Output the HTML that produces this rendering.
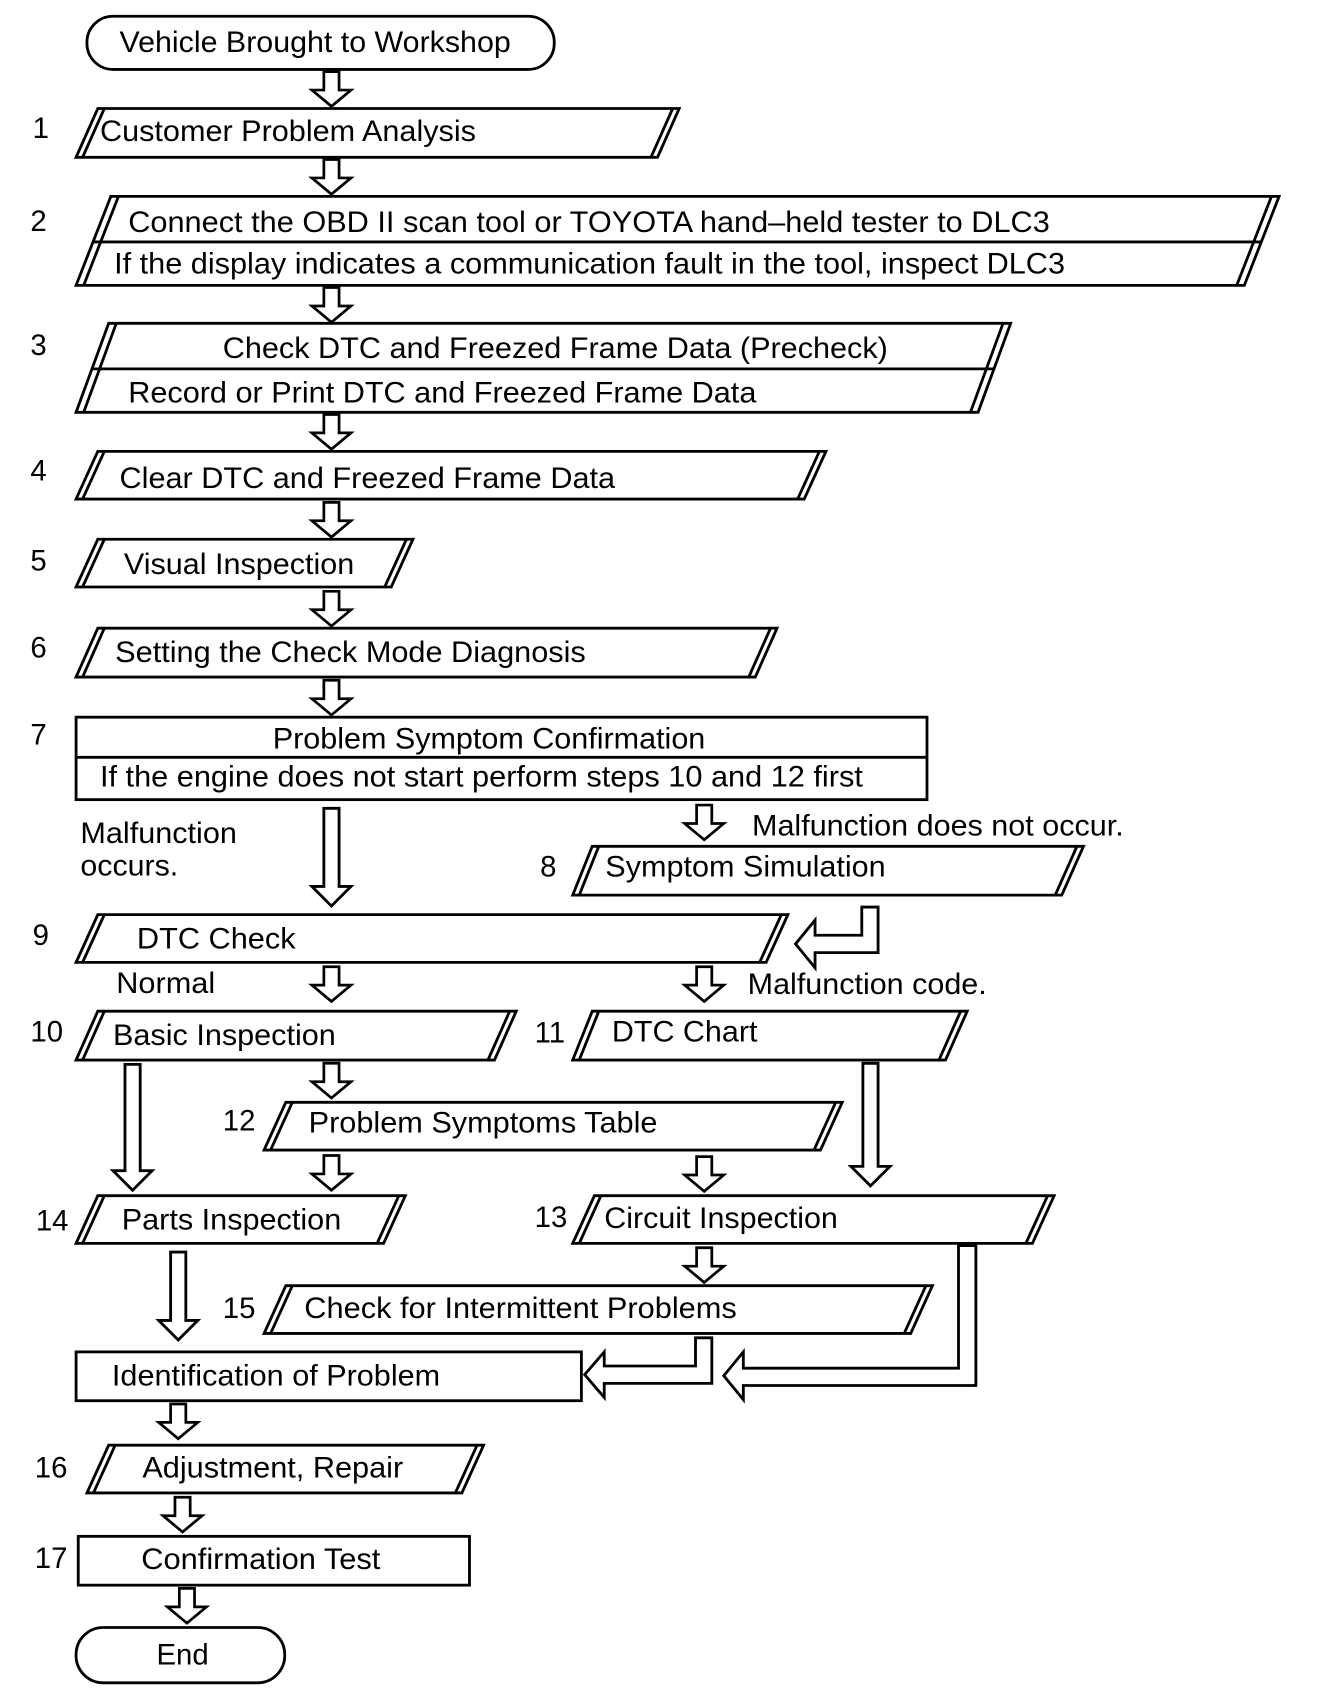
<!DOCTYPE html>
<html><head><meta charset="utf-8"><style>
html,body{margin:0;padding:0;background:#fff;}
svg{display:block}
text{font-family:"Liberation Sans",Arial,sans-serif;font-size:27px;fill:#000}
</style></head><body>
<svg width="1328" height="1698" viewBox="0 0 1222 1565" preserveAspectRatio="none" xmlns="http://www.w3.org/2000/svg">
<defs>
<polygon id="a32" points="-7,0 7,0 7,17 18,17 0,32 -18,17 -7,17" fill="#fff" stroke="#000" stroke-width="2.5" stroke-linejoin="miter"/>
</defs>
<g fill="#fff" stroke="#000" stroke-width="2.6">
<rect x="80" y="15" width="430" height="49" rx="24" ry="24"/>
<polygon points="70,145 90,100 625,100 605,145"/>
<line x1="76" y1="145" x2="96" y2="100"/><line x1="619" y1="100" x2="599" y2="145"/>
<polygon points="70,263 102,181 1177,181 1145,263"/>
<line x1="77" y1="263" x2="109" y2="181"/><line x1="1170" y1="181" x2="1138" y2="263"/>
<line x1="86" y1="223" x2="1161" y2="223"/>
<polygon points="70,380 100,298 930,298 900,380"/>
<line x1="77" y1="380" x2="107" y2="298"/><line x1="923" y1="298" x2="893" y2="380"/>
<line x1="85" y1="340" x2="915" y2="340"/>
<polygon points="70,460 90,416 760,416 740,460"/>
<line x1="76" y1="460" x2="96" y2="416"/><line x1="754" y1="416" x2="734" y2="460"/>
<polygon points="70,541 90,497 380,497 360,541"/>
<line x1="76" y1="541" x2="96" y2="497"/><line x1="374" y1="497" x2="354" y2="541"/>
<polygon points="70,624 90,579 715,579 695,624"/>
<line x1="76" y1="624" x2="96" y2="579"/><line x1="709" y1="579" x2="689" y2="624"/>
<rect x="70" y="661" width="783" height="76"/>
<line x1="70" y1="698" x2="853" y2="698"/>
<polygon points="527,825 545,780 997,780 977,825"/>
<line x1="533" y1="825" x2="551" y2="780"/><line x1="991" y1="780" x2="971" y2="825"/>
<polygon points="70,887 90,843 725,843 705,887"/>
<line x1="76" y1="887" x2="96" y2="843"/><line x1="719" y1="843" x2="699" y2="887"/>
<polygon points="70,977 90,932 475,932 455,977"/>
<line x1="76" y1="977" x2="96" y2="932"/><line x1="469" y1="932" x2="449" y2="977"/>
<polygon points="527,977 545,932 890,932 870,977"/>
<line x1="533" y1="977" x2="551" y2="932"/><line x1="884" y1="932" x2="864" y2="977"/>
<polygon points="243,1060 263,1016 775,1016 755,1060"/>
<line x1="249" y1="1060" x2="269" y2="1016"/><line x1="769" y1="1016" x2="749" y2="1060"/>
<polygon points="70,1146 90,1102 373,1102 353,1146"/>
<line x1="76" y1="1146" x2="96" y2="1102"/><line x1="367" y1="1102" x2="347" y2="1146"/>
<polygon points="527,1146 547,1102 970,1102 950,1146"/>
<line x1="533" y1="1146" x2="553" y2="1102"/><line x1="964" y1="1102" x2="944" y2="1146"/>
<polygon points="243,1229 263,1185 858,1185 838,1229"/>
<line x1="249" y1="1229" x2="269" y2="1185"/><line x1="852" y1="1185" x2="832" y2="1229"/>
<rect x="70" y="1246" width="465" height="45"/>
<polygon points="80,1376 100,1332 445,1332 425,1376"/>
<line x1="86" y1="1376" x2="106" y2="1332"/><line x1="439" y1="1332" x2="419" y2="1376"/>
<rect x="72" y="1416" width="360" height="45"/>
<rect x="70" y="1500" width="192" height="51" rx="25" ry="25"/>

<polygon points="298,745 312,745 312,817 323,817 305,835 287,817 298,817"/>
<polygon points="115,981 129,981 129,1079 140,1079 122,1097 104,1079 115,1079"/>
<polygon points="794,980 808,980 808,1075 819,1075 801,1093 783,1075 794,1075"/>
<polygon points="157,1154 171,1154 171,1217 182,1217 164,1235 146,1217 157,1217"/>
<polygon points="793,836 808,836 808,878 750,878 750,892 732,870 750,848 750,862 793,862"/>
<polygon points="640,1233 655,1233 655,1275 556,1275 556,1288 538,1267 556,1246 556,1259 640,1259"/>
<polygon points="882,1148 898,1148 898,1277 684,1277 684,1290 666,1268 684,1246 684,1261 882,1261"/>
</g>
<use href="#a32" x="305" y="66"/>
<use href="#a32" x="305" y="147"/>
<use href="#a32" x="305" y="265"/>
<use href="#a32" x="305" y="382"/>
<use href="#a32" x="305" y="463"/>
<use href="#a32" x="305" y="545"/>
<use href="#a32" x="305" y="627"/>
<use href="#a32" x="648" y="742"/>
<use href="#a32" x="305" y="891"/>
<use href="#a32" x="648" y="891"/>
<use href="#a32" x="305" y="980"/>
<use href="#a32" x="305" y="1065"/>
<use href="#a32" x="648" y="1066"/>
<use href="#a32" x="648" y="1150"/>
<use href="#a32" x="164" y="1294"/>
<use href="#a32" x="168" y="1380"/>
<use href="#a32" x="172" y="1464"/>

<text x="290" y="48" text-anchor="middle" textLength="360" lengthAdjust="spacingAndGlyphs">Vehicle Brought to Workshop</text>
<text x="30" y="127">1</text>
<text x="92" y="130" textLength="346" lengthAdjust="spacingAndGlyphs">Customer Problem Analysis</text>
<text x="28" y="213">2</text>
<text x="118" y="214" textLength="848" lengthAdjust="spacingAndGlyphs">Connect the OBD II scan tool or TOYOTA hand–held tester to DLC3</text>
<text x="105" y="252" textLength="875" lengthAdjust="spacingAndGlyphs">If the display indicates a communication fault in the tool, inspect DLC3</text>
<text x="28" y="327">3</text>
<text x="205" y="330" textLength="612" lengthAdjust="spacingAndGlyphs">Check DTC and Freezed Frame Data (Precheck)</text>
<text x="118" y="371" textLength="578" lengthAdjust="spacingAndGlyphs">Record or Print DTC and Freezed Frame Data</text>
<text x="28" y="443">4</text>
<text x="110" y="450" textLength="456" lengthAdjust="spacingAndGlyphs">Clear DTC and Freezed Frame Data</text>
<text x="28" y="526">5</text>
<text x="114" y="529" textLength="212" lengthAdjust="spacingAndGlyphs">Visual Inspection</text>
<text x="28" y="606">6</text>
<text x="106" y="610" textLength="433" lengthAdjust="spacingAndGlyphs">Setting the Check Mode Diagnosis</text>
<text x="28" y="686">7</text>
<text x="251" y="690" textLength="398" lengthAdjust="spacingAndGlyphs">Problem Symptom Confirmation</text>
<text x="92" y="725" textLength="702" lengthAdjust="spacingAndGlyphs">If the engine does not start perform steps 10 and 12 first</text>
<text x="74" y="777" textLength="144" lengthAdjust="spacingAndGlyphs">Malfunction</text>
<text x="74" y="807" textLength="90" lengthAdjust="spacingAndGlyphs">occurs.</text>
<text x="692" y="770" textLength="342" lengthAdjust="spacingAndGlyphs">Malfunction does not occur.</text>
<text x="497" y="808">8</text>
<text x="557" y="808" textLength="258" lengthAdjust="spacingAndGlyphs">Symptom Simulation</text>
<text x="30" y="871">9</text>
<text x="126" y="874" textLength="146" lengthAdjust="spacingAndGlyphs">DTC Check</text>
<text x="107" y="915" textLength="91" lengthAdjust="spacingAndGlyphs">Normal</text>
<text x="688" y="916" textLength="220" lengthAdjust="spacingAndGlyphs">Malfunction code.</text>
<text x="28" y="960">10</text>
<text x="104" y="963" textLength="205" lengthAdjust="spacingAndGlyphs">Basic Inspection</text>
<text x="492" y="961">11</text>
<text x="563" y="960" textLength="134" lengthAdjust="spacingAndGlyphs">DTC Chart</text>
<text x="205" y="1042">12</text>
<text x="284" y="1044" textLength="321" lengthAdjust="spacingAndGlyphs">Problem Symptoms Table</text>
<text x="33" y="1134">14</text>
<text x="112" y="1133" textLength="202" lengthAdjust="spacingAndGlyphs">Parts Inspection</text>
<text x="492" y="1131">13</text>
<text x="556" y="1132" textLength="215" lengthAdjust="spacingAndGlyphs">Circuit Inspection</text>
<text x="205" y="1215">15</text>
<text x="280" y="1215" textLength="398" lengthAdjust="spacingAndGlyphs">Check for Intermittent Problems</text>
<text x="103" y="1277" textLength="302" lengthAdjust="spacingAndGlyphs">Identification of Problem</text>
<text x="32" y="1362">16</text>
<text x="131" y="1362" textLength="240" lengthAdjust="spacingAndGlyphs">Adjustment, Repair</text>
<text x="32" y="1445">17</text>
<text x="130" y="1446" textLength="220" lengthAdjust="spacingAndGlyphs">Confirmation Test</text>
<text x="168" y="1534" text-anchor="middle">End</text>
</svg>
</body></html>
